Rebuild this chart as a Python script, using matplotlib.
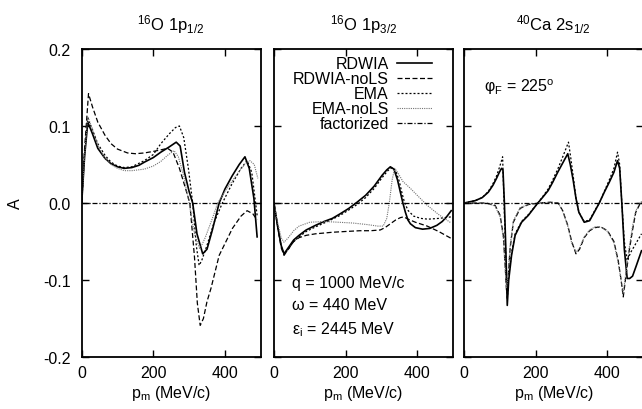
import matplotlib
matplotlib.use("Agg")
import matplotlib.pyplot as plt

plt.rcParams['font.family'] = ['Liberation Sans', 'DejaVu Sans']
plt.rcParams['mathtext.default'] = 'regular'
plt.rcParams['axes.unicode_minus'] = False
matplotlib.rc('xtick', labelsize=11.5)
matplotlib.rc('ytick', labelsize=11.5)
FS = 11.5

titles = [r"$^{16}$O 1p$_{1/2}$", r"$^{16}$O 1p$_{3/2}$", r"$^{40}$Ca 2s$_{1/2}$"]
labels = ["RDWIA", "RDWIA-noLS", "EMA", "EMA-noLS", "factorized"]

# ---- 16O 1p1/2
p1_rdwia_pm = [0, 8, 17, 30, 45, 65, 82, 100, 119, 140, 160, 175, 200, 221, 245, 264, 275, 287, 300, 310, 322, 338, 350, 365, 384, 400, 420, 440, 456, 468, 481, 490]
p1_rdwia_A = [0, 0.06, 0.105, 0.09, 0.071, 0.058, 0.051, 0.047, 0.045, 0.046, 0.049, 0.053, 0.059, 0.066, 0.073, 0.079, 0.074, 0.04, 0.015, 0.0, -0.04, -0.066, -0.06, -0.035, 0.0, 0.018, 0.035, 0.05, 0.06, 0.045, 0.006, -0.044]
p1_nols_pm = [0, 8, 19, 30, 45, 65, 82, 100, 128, 150, 175, 200, 221, 240, 255, 273, 288, 302, 315, 323, 331, 340, 350, 361, 384, 421, 445, 462, 478, 490]
p1_nols_A = [0, 0.07, 0.142, 0.125, 0.105, 0.088, 0.077, 0.07, 0.065, 0.064, 0.065, 0.067, 0.069, 0.071, 0.066, 0.045, 0.022, 0.0, -0.07, -0.13, -0.159, -0.15, -0.128, -0.111, -0.068, -0.033, -0.017, -0.01, -0.014, -0.022]
p1_ema_pm = [0, 8, 17, 30, 45, 65, 82, 100, 119, 140, 175, 200, 221, 245, 262, 273, 285, 298, 310, 320, 328, 335, 350, 370, 393, 420, 445, 462, 475, 490]
p1_ema_A = [0, 0.065, 0.11, 0.095, 0.077, 0.062, 0.053, 0.048, 0.046, 0.047, 0.055, 0.063, 0.077, 0.09, 0.098, 0.1, 0.085, 0.045, 0.0, -0.055, -0.081, -0.075, -0.055, -0.025, 0.0, 0.025, 0.045, 0.055, 0.04, -0.016]
p1_emanols_pm = [0, 8, 17, 30, 45, 65, 82, 100, 119, 140, 175, 200, 221, 240, 258, 270, 285, 300, 315, 330, 345, 365, 380, 400, 430, 455, 470, 482, 492]
p1_emanols_A = [0, 0.06, 0.112, 0.096, 0.075, 0.058, 0.05, 0.045, 0.042, 0.042, 0.044, 0.048, 0.054, 0.062, 0.068, 0.06, 0.035, 0.0, -0.04, -0.06, -0.045, -0.02, 0.0, 0.015, 0.035, 0.05, 0.055, 0.05, 0.032]

# ---- 16O 1p3/2
p2_rdwia_pm = [0, 10, 20, 28, 40, 55, 70, 90, 116, 140, 163, 185, 209, 232, 256, 280, 302, 315, 325, 335, 345, 353, 360, 367, 374, 381, 395, 415, 435, 455, 470, 482, 495]
p2_rdwia_A = [0, -0.03, -0.055, -0.066, -0.058, -0.048, -0.042, -0.035, -0.029, -0.024, -0.02, -0.014, -0.007, 0.001, 0.01, 0.022, 0.036, 0.043, 0.047, 0.044, 0.03, 0.014, 0.0, -0.012, -0.022, -0.027, -0.032, -0.034, -0.033, -0.029, -0.024, -0.018, -0.01]
p2_nols_pm = [0, 10, 20, 28, 40, 55, 70, 90, 116, 140, 163, 200, 240, 270, 297, 310, 325, 340, 353, 362, 375, 395, 428, 460, 495]
p2_nols_A = [0, -0.03, -0.058, -0.068, -0.06, -0.05, -0.045, -0.042, -0.04, -0.039, -0.038, -0.037, -0.036, -0.036, -0.035, -0.032, -0.027, -0.022, -0.019, -0.018, -0.021, -0.025, -0.03, -0.037, -0.046]
p2_ema_pm = [0, 10, 20, 28, 40, 55, 70, 90, 116, 140, 163, 185, 209, 232, 256, 280, 302, 318, 330, 340, 350, 358, 365, 375, 390, 410, 430, 460, 495]
p2_ema_A = [0, -0.03, -0.056, -0.067, -0.06, -0.05, -0.044, -0.037, -0.031, -0.026, -0.021, -0.016, -0.009, -0.002, 0.007, 0.019, 0.033, 0.042, 0.046, 0.042, 0.028, 0.012, 0.0, -0.01, -0.017, -0.02, -0.021, -0.02, -0.018]
p2_emanols_pm = [0, 10, 20, 28, 40, 55, 70, 100, 140, 180, 220, 260, 290, 305, 315, 322, 330, 337, 345, 360, 381, 400, 428, 460, 495]
p2_emanols_A = [0, -0.025, -0.045, -0.051, -0.045, -0.036, -0.03, -0.025, -0.024, -0.025, -0.026, -0.028, -0.03, -0.03, -0.02, 0.0, 0.03, 0.045, 0.04, 0.028, 0.019, 0.01, -0.003, -0.015, -0.026]

# ---- 40Ca 2s1/2
p3_rdwia_pm = [0, 30, 50, 67, 80, 90, 98, 104, 108, 112, 116, 120, 124, 132, 142, 160, 179, 202, 220, 234, 247, 261, 275, 289, 296, 304, 312, 320, 335, 350, 363, 377, 391, 405, 418, 428, 434, 440, 447, 455, 462, 470, 480, 495]
p3_rdwia_A = [0, 0.003, 0.007, 0.014, 0.023, 0.032, 0.04, 0.045, 0.043, 0.0, -0.06, -0.133, -0.1, -0.068, -0.042, -0.025, -0.016, -0.002, 0.008, 0.016, 0.027, 0.04, 0.052, 0.064, 0.05, 0.03, 0.006, -0.012, -0.025, -0.023, -0.012, 0.0, 0.014, 0.027, 0.04, 0.055, 0.045, 0.0, -0.06, -0.098, -0.098, -0.095, -0.082, -0.062]
p3_nols_pm = [0, 60, 86, 100, 109, 114, 118, 122, 128, 137, 156, 179, 210, 240, 262, 275, 289, 300, 312, 322, 335, 350, 365, 381, 400, 418, 430, 438, 444, 450, 460, 470, 479, 492, 500]
p3_nols_A = [0, 0, -0.003, -0.016, -0.042, -0.08, -0.115, -0.1, -0.059, -0.025, -0.007, -0.002, 0.0, 0.001, 0.0, -0.01, -0.029, -0.05, -0.066, -0.06, -0.045, -0.036, -0.032, -0.031, -0.036, -0.05, -0.075, -0.1, -0.122, -0.1, -0.064, -0.035, -0.012, 0.0, 0.002]
p3_ema_pm = [0, 30, 50, 67, 80, 90, 98, 104, 107, 111, 116, 120, 124, 132, 142, 160, 179, 202, 220, 234, 247, 261, 275, 291, 297, 305, 312, 320, 335, 350, 363, 377, 391, 405, 418, 428, 434, 440, 447, 455, 465, 480, 495]
p3_ema_A = [0, 0.003, 0.007, 0.015, 0.025, 0.035, 0.046, 0.055, 0.06, 0.0, -0.07, -0.125, -0.095, -0.065, -0.04, -0.024, -0.015, -0.002, 0.009, 0.018, 0.03, 0.044, 0.06, 0.079, 0.06, 0.032, 0.006, -0.012, -0.024, -0.022, -0.011, 0.0, 0.015, 0.03, 0.045, 0.066, 0.05, 0.0, -0.05, -0.075, -0.064, -0.052, -0.04]
p3_emanols_pm = [0, 60, 86, 100, 109, 114, 118, 122, 128, 137, 156, 179, 210, 240, 262, 275, 289, 300, 312, 322, 335, 350, 365, 381, 400, 418, 430, 438, 444, 450, 460, 470, 479, 492, 500]
p3_emanols_A = [0, 0, -0.004, -0.018, -0.045, -0.085, -0.11, -0.095, -0.055, -0.023, -0.006, -0.002, 0.0, 0.001, 0.0, -0.011, -0.03, -0.052, -0.064, -0.058, -0.044, -0.035, -0.031, -0.031, -0.037, -0.052, -0.078, -0.1, -0.118, -0.095, -0.06, -0.03, -0.01, 0.001, 0.002]

fact_pm = [0, 500]
fact_A = [0.0, 0.0]

panels = [
    (p1_rdwia_pm, p1_rdwia_A, p1_nols_pm, p1_nols_A, p1_ema_pm, p1_ema_A, p1_emanols_pm, p1_emanols_A),
    (p2_rdwia_pm, p2_rdwia_A, p2_nols_pm, p2_nols_A, p2_ema_pm, p2_ema_A, p2_emanols_pm, p2_emanols_A),
    (p3_rdwia_pm, p3_rdwia_A, p3_nols_pm, p3_nols_A, p3_ema_pm, p3_ema_A, p3_emanols_pm, p3_emanols_A),
]

fig = plt.figure(figsize=(6.42, 4.10), dpi=100)
lefts = [81.7, 274.0, 464.3]
axs = []
for i, lft in enumerate(lefts):
    ax = fig.add_axes([lft / 642, 52 / 410, 179 / 642, 308 / 410])
    d = panels[i]
    ax.plot(d[0], d[1], color='k', lw=1.2, label=labels[0])
    ax.plot(d[2], d[3], color='k', lw=0.9, dashes=(4, 2), label=labels[1])
    ax.plot(d[4], d[5], color='k', lw=0.9, dashes=(1.6, 1.6), label=labels[2])
    ax.plot(d[6], d[7], color='0.45', lw=0.8, dashes=(1, 1), label=labels[3])
    ax.plot(fact_pm, fact_A, color='k', lw=0.9, dashes=(4, 1.5, 1, 1.5), label=labels[4])
    ax.set_xlim(0, 500)
    ax.set_ylim(-0.2, 0.2)
    ax.set_xticks([0, 200, 400])
    ax.set_yticks([-0.2, -0.1, 0.0, 0.1, 0.2])
    ax.tick_params(direction='in', top=True, right=True, length=5, width=1, pad=6)
    ax.tick_params(axis='y', pad=8)
    for s in ax.spines.values():
        s.set_linewidth(1.3)
    ax.set_title(titles[i], fontsize=12, pad=14)
    ax.set_xlabel(r"p$_m$ (MeV/c)", fontsize=FS, labelpad=2)
    if i == 0:
        ax.set_yticklabels(["-0.2", "-0.1", "0.0", "0.1", "0.2"])
    else:
        ax.set_yticklabels([])
    axs.append(ax)

fig.text(15 / 642, 1 - 204 / 410, "A", rotation=90, ha='center', va='center', fontsize=FS)

axs[1].legend(loc='upper right', bbox_to_anchor=(1 - 14 / 179, 1.0), markerfirst=False,
              frameon=False, fontsize=FS, handlelength=2.2, handletextpad=0.5,
              labelspacing=0.0, borderaxespad=0.25, borderpad=0.2)

axs[1].text(0.1, 0.2435, "q = 1000 MeV/c", transform=axs[1].transAxes, fontsize=FS, va='center')
axs[1].text(0.1, 0.169, "ω = 440 MeV", transform=axs[1].transAxes, fontsize=FS, va='center')
axs[1].text(0.1, 0.091, "ε$_i$ = 2445 MeV", transform=axs[1].transAxes, fontsize=FS, va='center')
axs[2].text(0.11, 0.88, "φ$_F$ = 225$^o$", transform=axs[2].transAxes, fontsize=FS, va='center')

plt.savefig("out.png", dpi=100)
